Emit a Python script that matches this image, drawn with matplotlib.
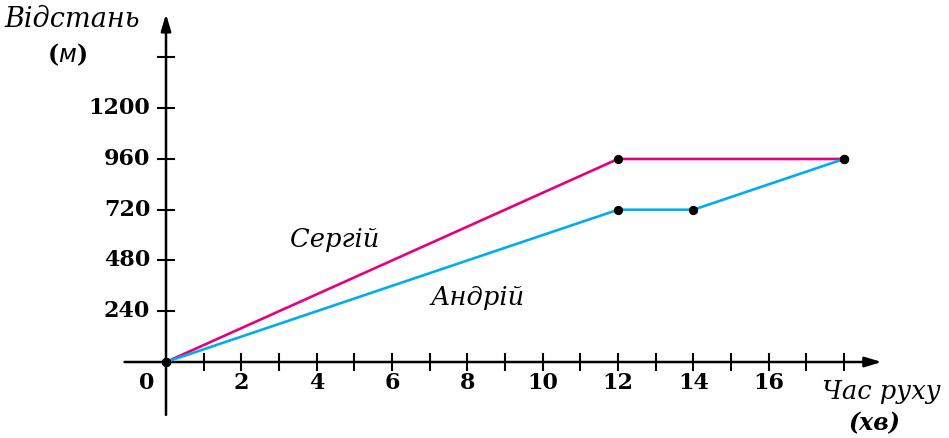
import matplotlib.pyplot as plt

# data
sergiy_t = [0, 12, 18]
sergiy_d = [0, 960, 960]
andriy_t = [0, 12, 14, 18]
andriy_d = [0, 720, 720, 960]
x_ticks = list(range(1, 19))
x_labels = [2, 4, 6, 8, 10, 12, 14, 16]
y_ticks = [240, 480, 720, 960, 1200, 1440]
y_labels = [240, 480, 720, 960, 1200]

pink = '#e5007d'
blue = '#00aeef'
font = 'DejaVu Serif'

fig = plt.figure(figsize=(9.49, 4.38), dpi=100)
ax = fig.add_axes([0, 0, 1, 1])
ax.set_xlim(-4.407, 20.786)
ax.set_ylim(-359.3, 1711.6)
ax.axis('off')

# axes with arrows
arrow = dict(arrowstyle='-|>,head_length=1.0,head_width=0.3', color='black', lw=1.8,
             shrinkA=0, shrinkB=0)
ax.annotate('', xy=(19.0, 0), xytext=(-1.1, 0), arrowprops=arrow)
ax.annotate('', xy=(0, 1645), xytext=(0, -250), arrowprops=arrow)

# ticks
for t in x_ticks:
    ax.plot([t, t], [-40, 40], color='black', lw=1.5)
for t in y_ticks:
    ax.plot([-0.2, 0.2], [t, t], color='black', lw=1.5)

for t in x_labels:
    ax.text(t, -100, str(t), ha='center', va='center', fontsize=16,
            fontweight='bold', family=font)
ax.text(-0.5, -100, '0', ha='center', va='center', fontsize=16,
        fontweight='bold', family=font)
for t in y_labels:
    ax.text(-0.42, t, str(t), ha='right', va='center', fontsize=16,
            fontweight='bold', family=font)

# lines
ax.plot(sergiy_t, sergiy_d, color=pink, lw=1.9, zorder=3)
ax.plot(andriy_t, andriy_d, color=blue, lw=1.9, zorder=3)
ax.scatter(sergiy_t, sergiy_d, color='black', s=32, zorder=4)
ax.scatter(andriy_t, andriy_d, color='black', s=32, zorder=4)

ax.text(4.49, 577, 'Сергій', ha='center', va='center', fontsize=18.5,
        style='italic', family=font)
ax.text(8.26, 307, 'Андрій', ha='center', va='center', fontsize=18.5,
        style='italic', family=font)

# axis titles
ax.text(-2.5, 1620, 'Відстань', ha='center', va='center', fontsize=19.5,
        style='italic', family=font)
ax.text(-2.63, 1455, '($\\mathit{м}$)', ha='center', va='center', fontsize=17,
        fontweight='bold', family=font)
ax.text(19.0, -140, 'Час руху', ha='center', va='center', fontsize=18.5,
        style='italic', family=font)
ax.text(18.8, -290, '(хв)', ha='center', va='center', fontsize=17,
        style='italic', fontweight='bold', family=font)

fig.savefig('out.png', dpi=100)
